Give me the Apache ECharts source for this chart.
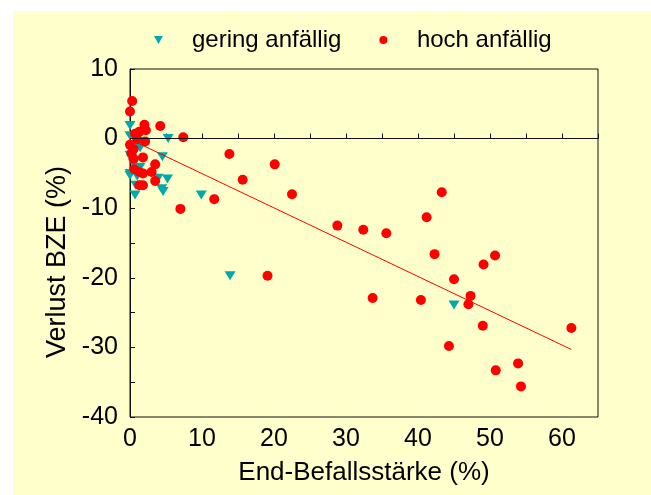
<!DOCTYPE html>
<html>
<head>
<meta charset="utf-8">
<script src="https://cdn.jsdelivr.net/npm/echarts@6/dist/echarts.min.js"></script>
<style>
html, body { margin: 0; padding: 0; background: #ffffff; }
#chart { position: absolute; left: 13px; top: 11px; width: 638px; height: 484px; background: #FFFFCC; }
</style>
</head>
<body>
<div id="chart"></div>
<script>
// Data: [End-Befallsstärke %, Verlust BZE %]
var seriesNames = ['gering anfällig', 'hoch anfällig'];
var geringAnfaellig = [
  [0, 1.9], [0, 0.4], [5.3, 0.0], [0, -1.4], [1.4, -1.3], [0, -2.4], [0.2, -2.9],
  [4.5, -2.6], [1.4, -4.1], [0.5, -3.6], [0, -5.0], [0, -5.3], [1.0, -5.4],
  [3.9, -5.7], [5.2, -5.8], [0.8, -6.7], [4.4, -7.2], [4.6, -7.6], [0.7, -8.1],
  [9.9, -8.1], [13.9, -19.7], [45.0, -23.9]
];
var hochAnfaellig = [
  [0.3, 5.4], [0, 3.9], [2.0, 2.0], [4.2, 1.8], [2.2, 1.2], [1.3, 1.0], [0.7, 0.7],
  [7.4, 0.2], [1.0, -0.1], [2.1, -0.4], [0, -0.9], [0.5, -1.5], [0.2, -2.1],
  [0.5, -2.9], [1.8, -2.7], [3.5, -3.7], [0.6, -4.4], [1.3, -4.8], [1.8, -5.0],
  [3.0, -4.8], [3.5, -6.1], [1.3, -6.7], [1.8, -6.7],
  [7.0, -10.1], [11.7, -8.7], [13.8, -2.2], [15.65, -5.9], [20.1, -3.7], [22.5, -8.0],
  [19.1, -19.7], [28.8, -12.5], [32.4, -13.1], [35.6, -13.6], [33.7, -22.9],
  [43.3, -7.7], [41.2, -11.3], [42.3, -16.6], [45.0, -20.2], [40.4, -23.2],
  [47.3, -22.6], [47.0, -23.8], [49.1, -18.1], [50.7, -16.8], [49.0, -26.9],
  [44.3, -29.8], [50.8, -33.3], [53.9, -32.3], [54.3, -35.6], [61.3, -27.2]
];
var fitLine = [[0.4, -0.3], [61.3, -30.3]];
var xTitle = 'End-Befallsstärke (%)';
var yTitle = 'Verlust BZE (%)';

var FONT = '"Liberation Sans", Arial, sans-serif';
var AX = '#111111';
var chart = echarts.init(document.getElementById('chart'), null, {renderer: 'canvas'});
chart.setOption({
  animation: false,
  backgroundColor: '#FFFFCC',
  textStyle: {fontFamily: FONT},
  grid: {left: 117, top: 58, right: 53, bottom: 78, show: true, borderColor: AX, borderWidth: 1, backgroundColor: 'transparent'},
  legend: {
    left: 141, top: 10, padding: 0,
    itemWidth: 9, itemHeight: 8, itemGap: 38,
    textStyle: {fontSize: 24, fontFamily: FONT, color: '#000', padding: [14, 0, 0, 24], lineHeight: 24},
    data: [
      {name: seriesNames[0], icon: 'path://M0,0L10,0L5,9Z'},
      {name: seriesNames[1], icon: 'circle'}
    ]
  },
  xAxis: {
    type: 'value', min: 0, max: 65, interval: 5,
    axisLine: {show: true, lineStyle: {color: AX, width: 1}},
    axisTick: {show: true, inside: true, length: 5, lineStyle: {color: AX}},
    splitLine: {show: false},
    axisLabel: {fontSize: 25, color: '#000', fontFamily: FONT, margin: 10,
      formatter: function (v) { return v % 10 === 0 ? String(v) : ''; }},
    name: xTitle, nameLocation: 'middle', nameGap: 43,
    nameTextStyle: {fontSize: 26, color: '#000', fontFamily: FONT}
  },
  yAxis: {
    type: 'value', min: -40, max: 10, interval: 5,
    axisLine: {show: true, lineStyle: {color: AX, width: 1}},
    axisTick: {show: true, inside: true, length: 5, lineStyle: {color: AX}},
    splitLine: {show: false},
    axisLabel: {fontSize: 25, color: '#000', fontFamily: FONT, margin: 12,
      formatter: function (v) { return v % 10 === 0 ? String(v) : ''; }},
    name: yTitle, nameLocation: 'middle', nameGap: 59,
    nameTextStyle: {fontSize: 27, color: '#000', fontFamily: FONT, padding: [0, 38, 0, 0]}
  },
  series: [
    {
      name: seriesNames[0], type: 'scatter', data: geringAnfaellig,
      symbol: 'path://M0,0L10,0L5,9Z', symbolSize: [11, 9],
      itemStyle: {color: '#00AAAA', opacity: 1}, z: 2
    },
    {
      name: seriesNames[1], type: 'scatter', data: hochAnfaellig,
      symbol: 'circle', symbolSize: 10,
      itemStyle: {color: '#FF0000', opacity: 1}, z: 3
    },
    {
      name: 'fit', type: 'line', data: fitLine, symbol: 'none', silent: true,
      lineStyle: {color: '#FF0000', width: 1}, z: 4,
      markLine: {
        silent: true, symbol: 'none', label: {show: false},
        lineStyle: {color: AX, width: 1, type: 'solid'},
        data: [{yAxis: 0}]
      }
    }
  ]
});
</script>
</body>
</html>
